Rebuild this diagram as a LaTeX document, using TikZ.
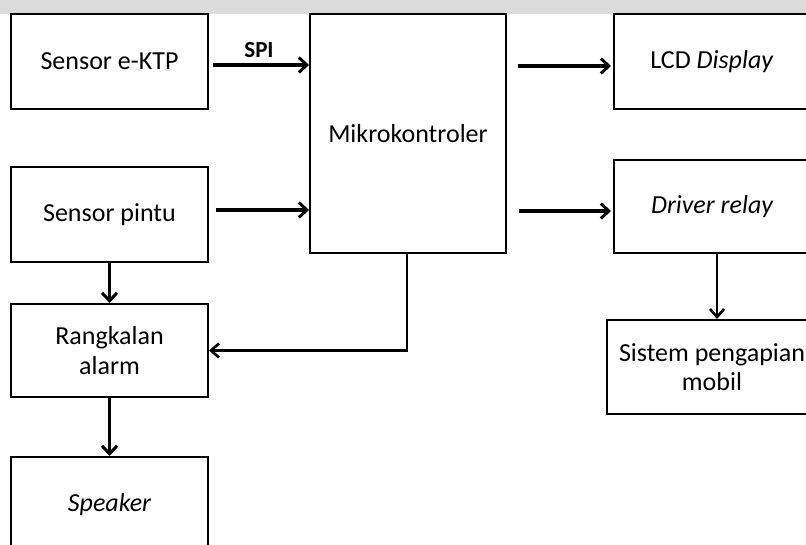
\documentclass[tikz,border=0pt]{standalone}
\usepackage{fontspec}
\setmainfont{Carlito}
\usetikzlibrary{arrows.meta}

\begin{document}
\begin{tikzpicture}[x=1pt,y=-1pt,
  block/.style={draw=black, line width=2pt, fill=white, align=center,
    inner sep=0pt, font=\fontsize{26}{30}\selectfont},
  flow/.style={line width=3.2pt, -{Straight Barb[length=8pt,width=15pt,line width=3pt]}},
  thinflow/.style={line width=2.2pt, -{Straight Barb[length=8pt,width=14pt,line width=2.6pt]}},
  tag/.style={font=\fontsize{23}{26}\selectfont\bfseries}
]
\clip (0,0) rectangle (806,545);
\fill[white] (0,0) rectangle (806,545);
% grey strip along the upper edge
\fill[gray!28] (0,0) rectangle (806,14);

% left column
\node[block, minimum width=197pt, minimum height=95pt] (ktp) at (109.5,61.5) {Sensor e-KTP};
\node[block, minimum width=197pt, minimum height=95pt] (pintu) at (109.5,214.5) {Sensor pintu};
\node[block, minimum width=197pt, minimum height=93pt] (alarm) at (109.5,350.5) {Rangkalan\\alarm};
\node[block, minimum width=197pt, minimum height=95pt] (spk) at (109.5,504.5) {\itshape Speaker};

% controller
\node[block, minimum width=196pt, minimum height=239pt] (mcu) at (408,133.5) {Mikrokontroler};

% right column
\node[block, minimum width=196pt, minimum height=95pt] (lcd) at (712,61.5) {LCD \textit{Display}};
\node[block, minimum width=196pt, minimum height=93pt] (relay) at (712,206.5) {\itshape Driver relay};
\node[block, minimum width=210pt, minimum height=94pt, font=\fontsize{26}{29}\selectfont] (ign) at (712,367) {Sistem pengapian\\mobil};

% inputs to the controller
\coordinate (a1) at ([xshift=4pt,yshift=-3.5pt]ktp.east);
\draw[flow] (a1) -- (a1 -| mcu.west);
\node[tag] (spi) at (259,50) {SPI};
\coordinate (a2) at ([xshift=7pt,yshift=4.5pt]pintu.east);
\draw[flow] (a2) -- (a2 -| mcu.west);

% controller outputs
\coordinate (b1) at ([xshift=-2pt,yshift=-4.5pt]lcd.west);
\draw[flow] ([xshift=11pt]b1 -| mcu.east) -- (b1);
\coordinate (b2) at ([xshift=-2pt,yshift=-4.5pt]relay.west);
\draw[flow] ([xshift=12pt]b2 -| mcu.east) -- (b2);

% alarm chain
\draw[flow] (pintu.south) -- (alarm.north);
\draw[flow] (alarm.south) -- (spk.north);
\draw[thinflow] ([xshift=-1pt]mcu.south) |- (alarm.east);

% ignition chain
\coordinate (c1) at ([xshift=5pt]relay.south);
\draw[thinflow] (c1) -- (c1 |- ign.north);
\end{tikzpicture}
\end{document}
